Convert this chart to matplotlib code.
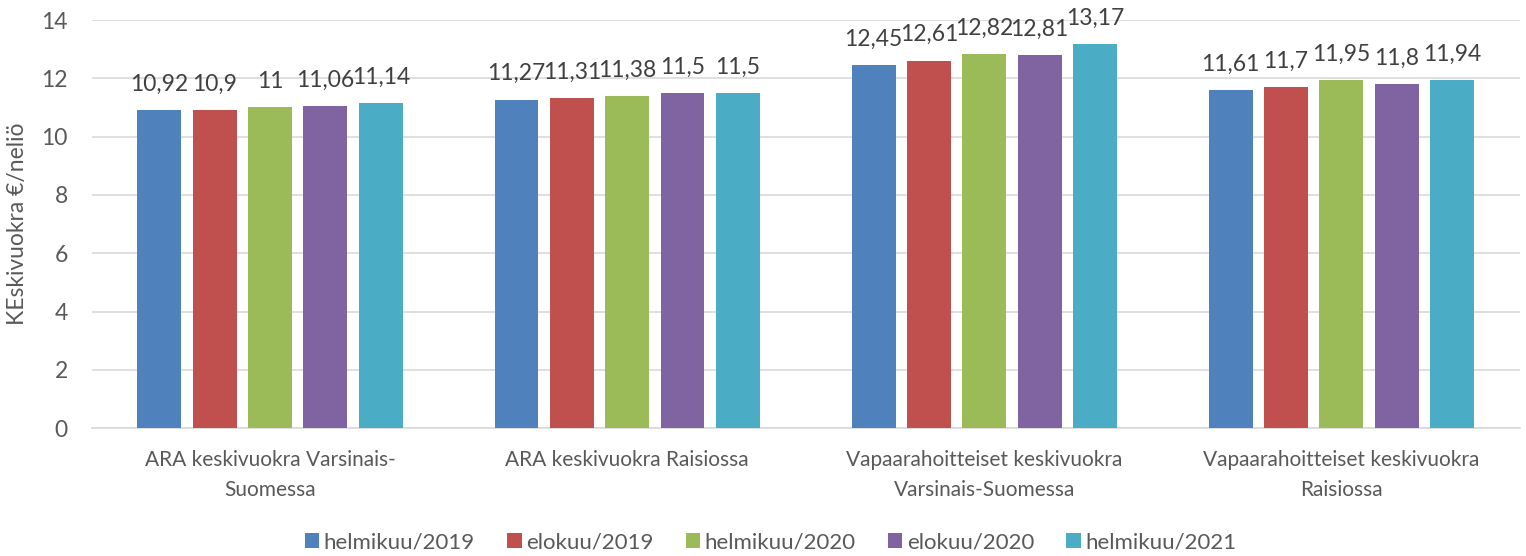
import matplotlib
matplotlib.use("Agg")
import matplotlib.pyplot as plt
import numpy as np

categories = ["ARA keskivuokra Varsinais-\nSuomessa",
              "ARA keskivuokra Raisiossa",
              "Vapaarahoitteiset keskivuokra\nVarsinais-Suomessa",
              "Vapaarahoitteiset keskivuokra\nRaisiossa"]
series_names = ["helmikuu/2019", "elokuu/2019", "helmikuu/2020", "elokuu/2020", "helmikuu/2021"]
values = [
    [10.92, 11.27, 12.45, 11.61],
    [10.9, 11.31, 12.61, 11.7],
    [11.0, 11.38, 12.82, 11.95],
    [11.06, 11.5, 12.81, 11.8],
    [11.14, 11.5, 13.17, 11.94],
]
labels = [
    ["10,92", "11,27", "12,45", "11,61"],
    ["10,9", "11,31", "12,61", "11,7"],
    ["11", "11,38", "12,82", "11,95"],
    ["11,06", "11,5", "12,81", "11,8"],
    ["11,14", "11,5", "13,17", "11,94"],
]
colors = ["#4F81BD", "#C0504D", "#9BBB59", "#8064A2", "#4BACC6"]
yticks = [0, 2, 4, 6, 8, 10, 12, 14]

plt.rcParams['font.family'] = ['Lato', 'DejaVu Sans']

fig = plt.figure(figsize=(15.26, 5.56), dpi=100)
ax = fig.add_axes([0.060, 0.230, 0.936, 0.734])

x = np.arange(len(categories))
pitch = 0.155
width = 0.123
for i, (name, vals, labs, c) in enumerate(zip(series_names, values, labels, colors)):
    pos = x + (i - 2) * pitch
    bars = ax.bar(pos, vals, width, color=c, label=name, zorder=3)
    for b, l in zip(bars, labs):
        ax.annotate(l, (b.get_x() + b.get_width() / 2, b.get_height()),
                    xytext=(0, 11), textcoords="offset points",
                    ha="center", va="bottom", fontsize=16.5, color="#404040")

ax.set_xlim(-0.5, len(categories) - 0.5)
ax.set_ylim(0, 14)
ax.set_yticks(yticks)
ax.set_yticklabels([str(t) for t in yticks])
ax.set_xticks(x)
ax.set_xticklabels(categories, fontsize=15, color="#595959", linespacing=1.6)
ax.tick_params(axis='y', labelsize=16.5, labelcolor="#595959", length=0, pad=17)
ax.tick_params(axis='x', length=0, pad=16)
ax.grid(axis='y', color="#D9D9D9", linewidth=1.2, zorder=0)
for s in ["top", "right", "left"]:
    ax.spines[s].set_visible(False)
ax.spines["bottom"].set_color("#D9D9D9")
ax.spines["bottom"].set_linewidth(1.2)
ax.set_ylabel("KEskivuokra €/neliö", fontsize=16.5, color="#595959", labelpad=10)

leg = fig.legend(loc="center", bbox_to_anchor=(0.505, 0.025), ncol=5, frameon=False,
                 fontsize=16, handlelength=0.65, handleheight=0.65, handletextpad=0.2,
                 columnspacing=1.45)
for t in leg.get_texts():
    t.set_color("#595959")

fig.savefig("out.png", dpi=100)
